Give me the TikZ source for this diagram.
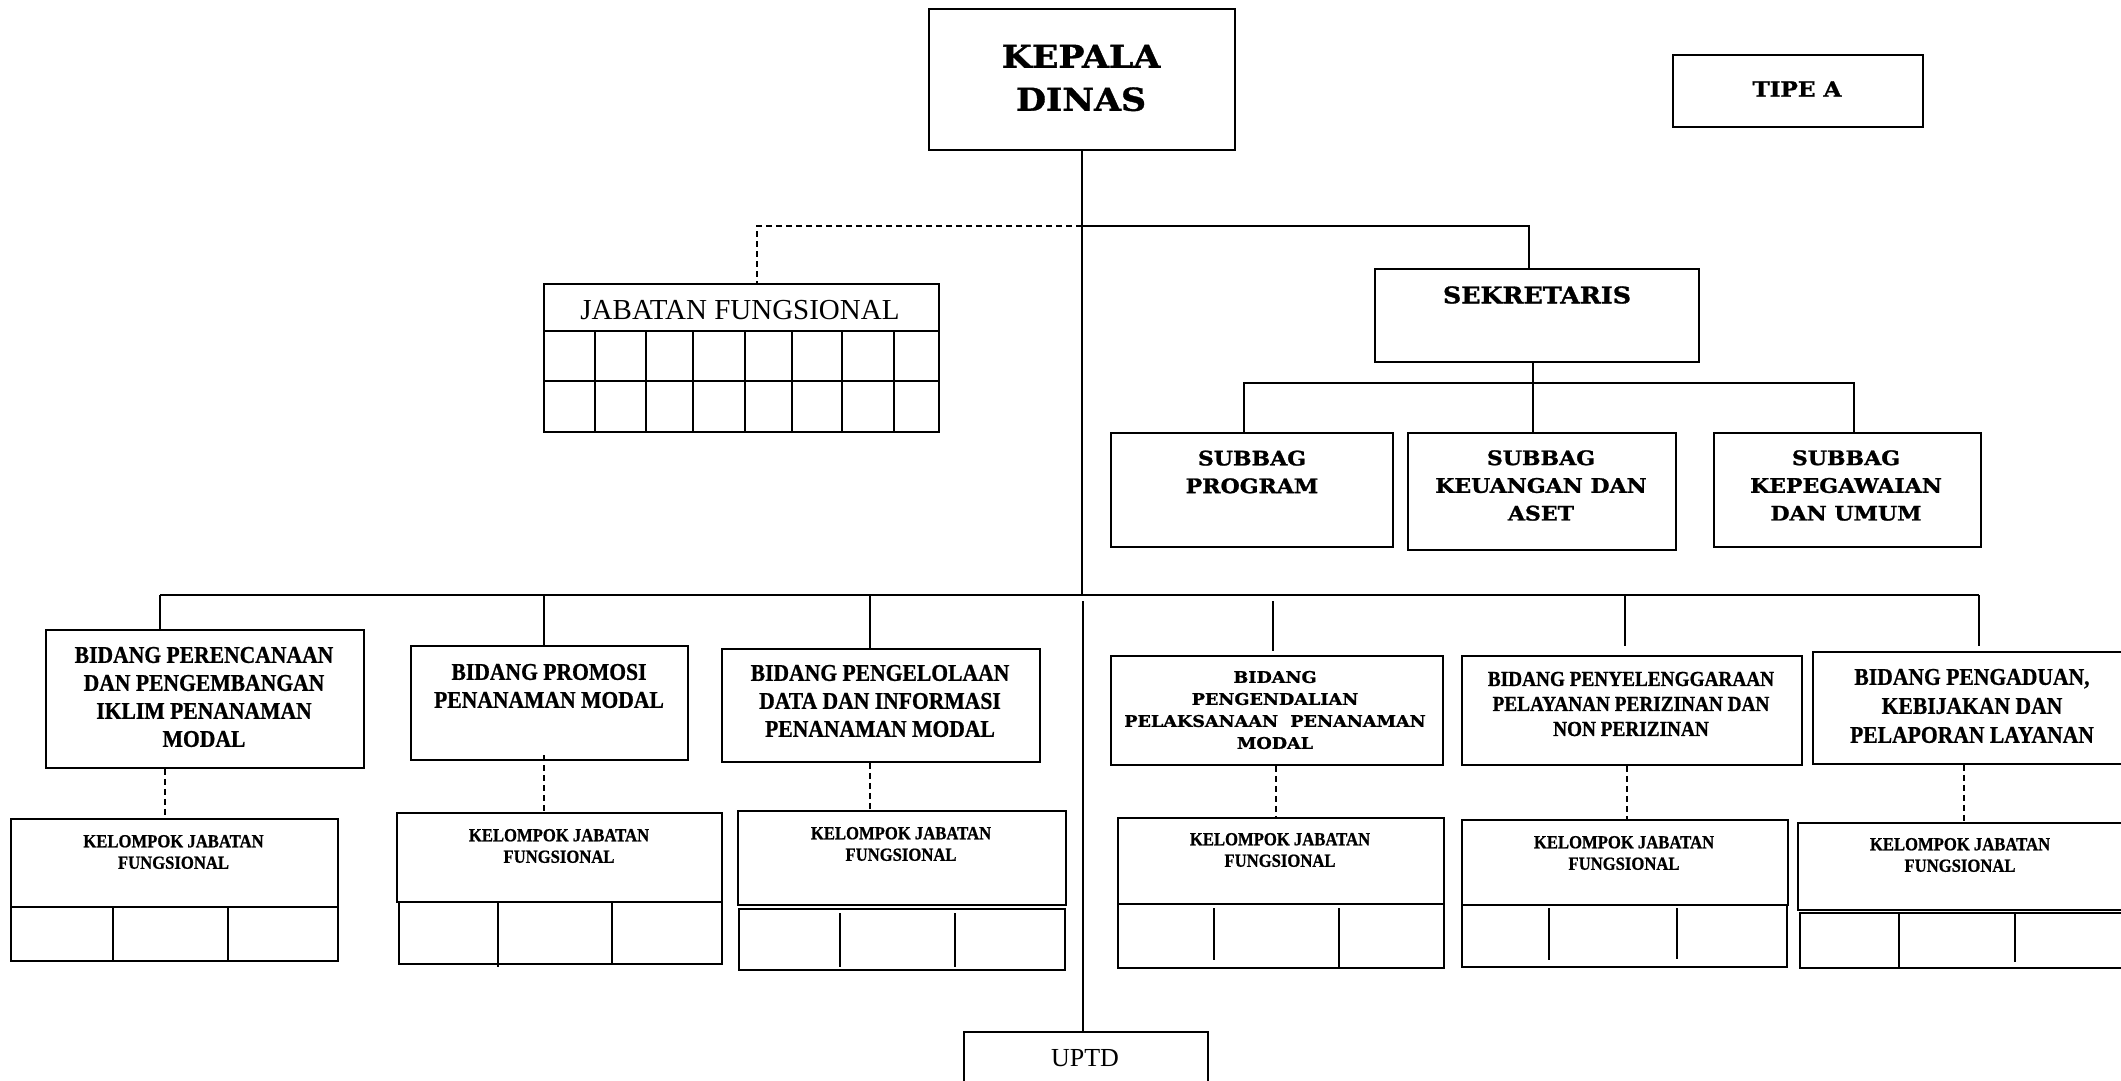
\documentclass[tikz,border=0pt]{standalone}
\usepackage{fontspec}
\setmainfont{Liberation Serif}
\newfontfamily\bkm{DejaVu Serif}[FakeStretch=1.1,FakeBold=1.2]
\newfontfamily\cmb{Liberation Serif}[FakeStretch=0.9,FakeBold=0.8]
\newcommand\obox[5]{%
  \pgfmathsetmacro\obw{#4-#2}\pgfmathsetmacro\obh{#5-#3}%
  \node[box, anchor=north west, minimum width=\obw pt, minimum height=\obh pt] (#1) at (#2,#3) {};}
\tikzset{
  box/.style={draw, line width=1.8pt, inner sep=0pt, rectangle},
  txt/.style={align=center, inner sep=0pt},
  ln/.style={line width=1.4pt},
  dl/.style={line width=1.4pt, dash pattern=on 6pt off 4pt},
}
\begin{document}
\begin{tikzpicture}[x=1pt,y=-1pt]
\useasboundingbox (0,0) rectangle (2121,1081);
\fill[white] (0,0) rectangle (2121,1081);

% ---------- top level ----------
\obox{kd}{928}{8}{1234}{149}
\node[txt,font=\bkm\bfseries\fontsize{31.6}{43}\selectfont] (kdt) at (1081,78) {KEPALA\\DINAS};
\obox{tipe}{1672}{54}{1922}{126}
\node[txt,font=\bkm\bfseries\fontsize{21}{25}\selectfont] (tipet) at (1797,89) {TIPE A};

% ---------- jabatan fungsional table ----------
\obox{jf}{543}{283}{938}{431}
\node[txt,font=\fontsize{29}{33}\selectfont] (jft) at (740,310) {JABATAN FUNGSIONAL};
\draw[ln] (jf.west |- 0,331) -- (jf.east |- 0,331);
\draw[ln] (jf.west |- 0,381) -- (jf.east |- 0,381);
\foreach \cx in {595,646,693,745,792,842,894}{\draw[ln] (\cx,331) -- (\cx,431);}

% ---------- sekretaris ----------
\obox{sek}{1374}{268}{1698}{361}
\node[txt,font=\bkm\bfseries\fontsize{23}{27}\selectfont] (sekt) at (1537,295) {SEKRETARIS};
\obox{sb1}{1110}{432}{1392}{546}
\obox{sb2}{1407}{432}{1675}{549}
\obox{sb3}{1713}{432}{1980}{546}
\node[txt,font=\bkm\bfseries\fontsize{20}{27.7}\selectfont] (sb1t) at (1252,472) {SUBBAG\\PROGRAM};
\node[txt,font=\bkm\bfseries\fontsize{20}{27.7}\selectfont] (sb2t) at (1541,485.5) {SUBBAG\\KEUANGAN DAN\\ASET};
\node[txt,font=\bkm\bfseries\fontsize{20}{27.7}\selectfont] (sb3t) at (1846,485.5) {SUBBAG\\KEPEGAWAIAN\\DAN UMUM};

% ---------- bidang ----------
\obox{bp1}{45}{629}{363}{767}
\obox{bp2}{410}{645}{687}{759}
\obox{bp3}{721}{648}{1039}{761}
\obox{bp4}{1110}{655}{1442}{764}
\obox{bp5}{1461}{655}{1801}{764}
\obox{bp6}{1812}{651}{2140}{763}
\node[txt,font=\cmb\bfseries\fontsize{24}{28}\selectfont] (bp1t) at (204,697) {BIDANG PERENCANAAN\\DAN PENGEMBANGAN\\IKLIM PENANAMAN\\MODAL};
\node[txt,font=\cmb\bfseries\fontsize{24}{28}\selectfont] (bp2t) at (549,686) {BIDANG PROMOSI\\PENANAMAN MODAL};
\node[txt,font=\cmb\bfseries\fontsize{24}{28}\selectfont] (bp3t) at (880,701) {BIDANG PENGELOLAAN\\DATA DAN INFORMASI\\PENANAMAN MODAL};
\node[txt,font=\bkm\bfseries\fontsize{16}{22}\selectfont] (bp4t) at (1275,710) {BIDANG\\PENGENDALIAN\\PELAKSANAAN\ \ PENANAMAN\\MODAL};
\node[txt,font=\cmb\bfseries\fontsize{21.4}{25}\selectfont] (bp5t) at (1631,704) {BIDANG PENYELENGGARAAN\\PELAYANAN PERIZINAN DAN\\NON PERIZINAN};
\node[txt,font=\cmb\bfseries\fontsize{24}{29}\selectfont] (bp6t) at (1972,706) {BIDANG PENGADUAN,\\KEBIJAKAN DAN\\PELAPORAN LAYANAN};

% ---------- kelompok jabatan fungsional ----------
\obox{k1}{10}{818}{337}{906}   \obox{k1b}{10}{906}{337}{960}
\obox{k2}{396}{812}{721}{901}  \obox{k2b}{398}{901}{721}{963}
\obox{k3}{737}{810}{1065}{904} \obox{k3b}{738}{908}{1064}{969}
\obox{k4}{1117}{817}{1443}{903} \obox{k4b}{1117}{903}{1443}{967}
\obox{k5}{1461}{819}{1787}{904} \obox{k5b}{1461}{904}{1786}{966}
\obox{k6}{1797}{822}{2140}{909} \obox{k6b}{1799}{912}{2140}{967}
\draw[ln] (113,906) -- (113,960);  \draw[ln] (228,906) -- (228,960);
\draw[ln] (498,901) -- (498,967);  \draw[ln] (612,901) -- (612,963);
\draw[ln] (840,913) -- (840,967);  \draw[ln] (955,913) -- (955,967);
\draw[ln] (1214,908) -- (1214,960); \draw[ln] (1339,908) -- (1339,967);
\draw[ln] (1549,908) -- (1549,960); \draw[ln] (1677,908) -- (1677,959);
\draw[ln] (1899,912) -- (1899,967); \draw[ln] (2015,912) -- (2015,962);
\foreach \n/\x/\y in {1/173.5/852, 2/559/846, 3/901/844, 4/1280/850, 5/1624/853, 6/1960/855}{
  \node[txt,font=\cmb\bfseries\fontsize{18.5}{21.5}\selectfont] (k\n t) at (\x,\y) {KELOMPOK JABATAN\\FUNGSIONAL};
}

% ---------- UPTD ----------
\obox{uptd}{963}{1031}{1207}{1110}
\node[txt,font=\fontsize{26}{30}\selectfont] (uptdt) at (1085,1058) {UPTD};

% ---------- connectors ----------
\coordinate (j1) at (1082,226);
\coordinate (jfd) at (757,283);
\coordinate (skd) at (1529,268);
\coordinate (bus1) at (160,595);
\coordinate (bus6) at (1979,595);
\coordinate (busm) at (1082,595);
\draw[ln] (kd.south -| busm) -- (busm);
\draw[dl] (j1) -| (jfd);
\draw[ln] (j1) -| (skd);
% sekretaris to subbag
\coordinate (sj) at (1533,383);
\draw[ln] (sek.south -| sj) -- (sj) -- (sb2.north -| sj);
\draw[ln] (sb1.north -| 1244,0) |- (sj) -| (sb3.north -| 1854,0);
% bus
\draw[ln] (bus1) -- (bus6);
\draw[ln] (bus1) -- (bp1.north -| bus1);
\draw[ln] (544,595) -- (bp2.north -| 544,0);
\draw[ln] (870,595) -- (bp3.north -| 870,0);
\draw[ln] (1273,601) -- (1273,651);
\draw[ln] (1625,595) -- (1625,646);
\draw[ln] (bus6) -- (1979,646);
\draw[ln] (1083,601) -- (uptd.north -| 1083,0);
% dashed to kelompok
\draw[dl] (bp1.south -| 165,0) -- (k1.north -| 165,0);
\draw[dl] (544,755) -- (k2.north -| 544,0);
\draw[dl] (bp3.south -| 870,0) -- (k3.north -| 870,0);
\draw[dl] (bp4.south -| 1276,0) -- (k4.north -| 1276,0);
\draw[dl] (bp5.south -| 1627,0) -- (k5.north -| 1627,0);
\draw[dl] (bp6.south -| 1964,0) -- (k6.north -| 1964,0);
\end{tikzpicture}
\end{document}
